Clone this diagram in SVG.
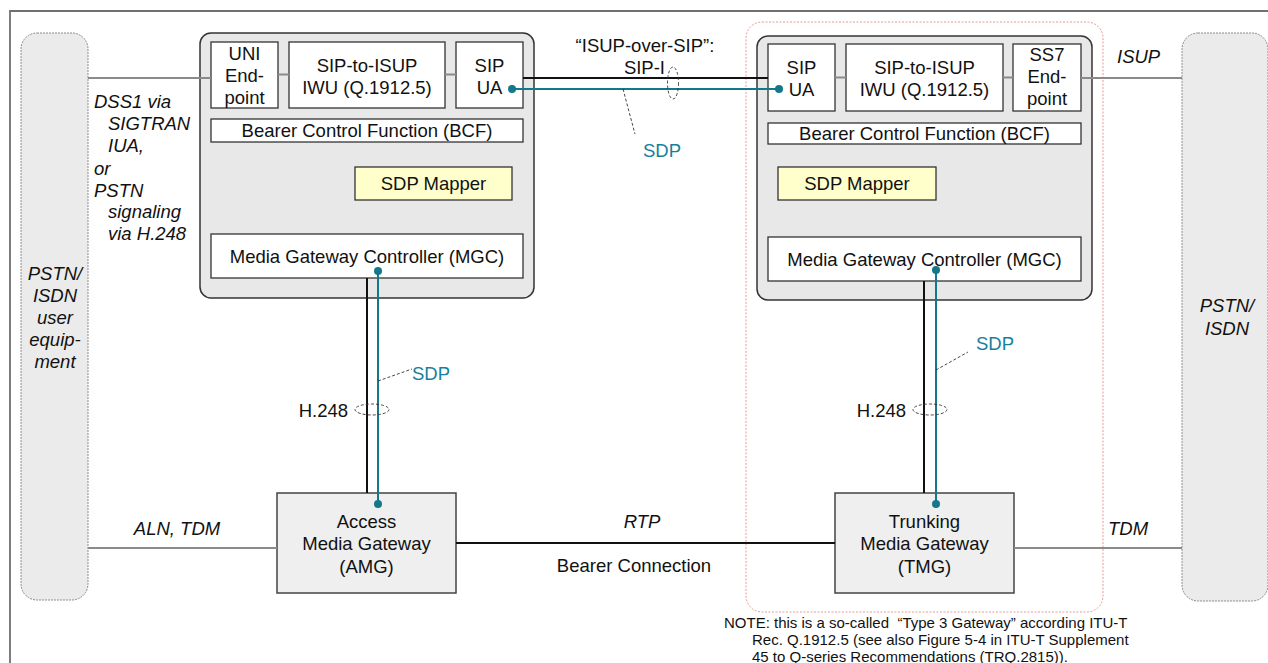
<svg xmlns="http://www.w3.org/2000/svg" width="1268" height="663" viewBox="0 0 1268 663">
<style>
text{font-family:"Liberation Sans",Arial,sans-serif;font-size:18.5px;fill:#111}
.c{text-anchor:middle}
.it{font-style:italic}
.teal{fill:#15819a}
.note{font-size:15px;white-space:pre}
.pill{fill:#ebebeb;stroke:#8c8c8c;stroke-width:1;stroke-dasharray:2 1}
.gw{fill:#e8e8e8;stroke:#333;stroke-width:1.5}
.box{fill:#fff;stroke:#333;stroke-width:1.3}
.mapper{fill:#ffffcc;stroke:#333;stroke-width:1.3}
.mg{fill:#efefef;stroke:#444;stroke-width:1.5}
.grey{stroke:#8a8a8a;stroke-width:2;fill:none}
.blk{stroke:#111;stroke-width:2;fill:none}
.tl{stroke:#12788a;stroke-width:2;fill:none}
.dash{stroke:#333;stroke-width:0.9;stroke-dasharray:3 2;fill:none}
.dot{fill:#12788a}
</style>
<rect width="1268" height="663" fill="#fff"/>
<g id="frame">
<path d="M10,663 V11 H1268" fill="none" stroke="#707070" stroke-width="1.8"/>
</g>
<g id="type3-outline">
<rect x="746" y="22" width="357" height="590" rx="16" fill="none" stroke="#e79a9a" stroke-width="1" stroke-dasharray="2 1.5"/>
</g>
<g id="pstn-left">
<rect class="pill" x="21" y="33" width="67" height="567" rx="16"/>
<text class="c it" x="55" y="280">PSTN/</text>
<text class="c it" x="55" y="302">ISDN</text>
<text class="c it" x="55" y="324">user</text>
<text class="c it" x="55" y="346">equip-</text>
<text class="c it" x="55" y="368">ment</text>
</g>
<g id="pstn-right">
<rect class="pill" x="1182" y="33" width="86" height="568" rx="16"/>
<text class="c it" x="1227" y="312">PSTN/</text>
<text class="c it" x="1227" y="335">ISDN</text>
</g>
<g id="mgc-left">
<rect class="gw" x="200" y="33" width="334" height="265" rx="11"/>
<rect class="box" x="211" y="42" width="67" height="66"/>
<text class="c" x="244.5" y="60">UNI</text>
<text class="c" x="244.5" y="82">End-</text>
<text class="c" x="244.5" y="104">point</text>
<rect class="box" x="289" y="42" width="156" height="66"/>
<text class="c" x="367" y="72">SIP-to-ISUP</text>
<text class="c" x="367" y="94">IWU (Q.1912.5)</text>
<rect class="box" x="456" y="42" width="67" height="66"/>
<text class="c" x="489.5" y="72">SIP</text>
<text class="c" x="489.5" y="94">UA</text>
<rect class="box" x="211" y="119" width="312" height="23"/>
<text class="c" x="367" y="137">Bearer Control Function (BCF)</text>
<rect class="mapper" x="355" y="167" width="157" height="33"/>
<text class="c" x="433.5" y="190">SDP Mapper</text>
<rect class="box" x="211" y="234" width="312" height="44"/>
<text class="c" x="367" y="263">Media Gateway Controller (MGC)</text>
</g>
<g id="mgc-right">
<rect class="gw" x="757" y="36" width="335" height="264" rx="11"/>
<rect class="box" x="768" y="44" width="67" height="67"/>
<text class="c" x="801.5" y="74">SIP</text>
<text class="c" x="801.5" y="96">UA</text>
<rect class="box" x="846" y="44" width="157" height="67"/>
<text class="c" x="924.5" y="74">SIP-to-ISUP</text>
<text class="c" x="924.5" y="96">IWU (Q.1912.5)</text>
<rect class="box" x="1013" y="44" width="68" height="67"/>
<text class="c" x="1047" y="61">SS7</text>
<text class="c" x="1047" y="83">End-</text>
<text class="c" x="1047" y="105">point</text>
<rect class="box" x="768" y="123" width="313" height="21"/>
<text class="c" x="924.5" y="140">Bearer Control Function (BCF)</text>
<rect class="mapper" x="778" y="167" width="158" height="33"/>
<text class="c" x="857" y="190">SDP Mapper</text>
<rect class="box" x="768" y="237" width="313" height="44"/>
<text class="c" x="924.5" y="266">Media Gateway Controller (MGC)</text>
</g>
<g id="amg">
<rect class="mg" x="277" y="493" width="179" height="100"/>
<text class="c" x="366.5" y="528">Access</text>
<text class="c" x="366.5" y="550">Media Gateway</text>
<text class="c" x="366.5" y="573">(AMG)</text>
</g>
<g id="tmg">
<rect class="mg" x="835" y="493" width="179" height="100"/>
<text class="c" x="924.5" y="528">Trunking</text>
<text class="c" x="924.5" y="550">Media Gateway</text>
<text class="c" x="924.5" y="573">(TMG)</text>
</g>
<g id="connectors">
<path class="grey" d="M88,78 H211"/>
<path class="grey" d="M278,74.5 H289 M445,74.5 H456"/>
<path class="grey" d="M835,77.5 H846 M1003,77.5 H1013"/>
<path class="grey" d="M1081,78 H1182"/>
<path class="grey" d="M88,548 H277"/>
<path class="grey" d="M1014,548 H1182"/>
<path class="blk" d="M523,78 H768"/>
<path class="tl" d="M512,89 H779"/>
<path class="blk" d="M367,278 V493"/>
<path class="tl" d="M378,271 V504"/>
<path class="blk" d="M924,281 V493"/>
<path class="tl" d="M936,270 V504"/>
<path class="blk" d="M456,543 H835"/>
<circle class="dot" cx="512" cy="89" r="4"/>
<circle class="dot" cx="779" cy="89" r="4"/>
<circle class="dot" cx="378" cy="271" r="4"/>
<circle class="dot" cx="378" cy="504" r="4"/>
<circle class="dot" cx="936" cy="270" r="4"/>
<circle class="dot" cx="936" cy="504" r="4"/>
<ellipse class="dash" cx="673" cy="83" rx="5.5" ry="16"/>
<path class="dash" d="M623,89 L635,134"/>
<ellipse class="dash" cx="372" cy="409.5" rx="17" ry="5.5"/>
<path class="dash" d="M378,381 L412,369"/>
<ellipse class="dash" cx="930" cy="409.5" rx="17" ry="5.5"/>
<path class="dash" d="M936,370 L968,352"/>
<text class="c" x="645" y="52">“ISUP-over-SIP”:</text>
<text x="665" y="74" text-anchor="end">SIP-I</text>
<text class="teal" x="643" y="157">SDP</text>
<text x="348" y="417" text-anchor="end">H.248</text>
<text class="teal" x="412" y="380">SDP</text>
<text x="906" y="417" text-anchor="end">H.248</text>
<text class="teal" x="976" y="350">SDP</text>
<text class="it" x="94" y="108">DSS1 via</text>
<text class="it" x="108" y="130">SIGTRAN</text>
<text class="it" x="108" y="152">IUA,</text>
<text class="it" x="94" y="175">or</text>
<text class="it" x="94" y="197">PSTN</text>
<text class="it" x="108" y="218">signaling</text>
<text class="it" x="108" y="240">via H.248</text>
<text class="it" x="1117" y="63">ISUP</text>
<text class="c it" x="177" y="535">ALN, TDM</text>
<text class="c it" x="642" y="528">RTP</text>
<text class="c" x="634" y="572">Bearer Connection</text>
<text class="it" x="1108" y="535">TDM</text>
</g>
<g id="note">
<text class="note" x="724" y="628">NOTE: this is a so-called  “Type 3 Gateway” according ITU-T</text>
<text class="note" x="752" y="645">Rec. Q.1912.5 (see also Figure 5-4 in ITU-T Supplement</text>
<text class="note" x="752" y="662">45 to Q-series Recommendations (TRQ.2815)).</text>
</g>
</svg>
